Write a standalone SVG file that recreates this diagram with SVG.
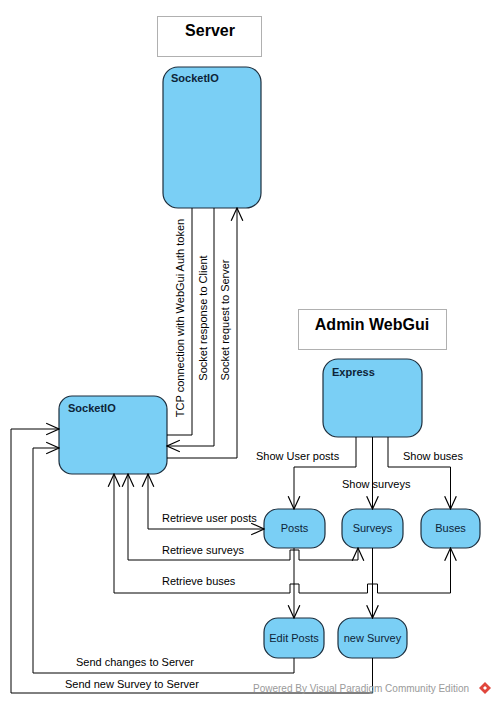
<svg xmlns="http://www.w3.org/2000/svg" width="497" height="705" viewBox="0 0 497 705">
<defs>
<style>
.title{fill:#fff;stroke:#b0b0b0;stroke-width:1}
.tt{font-family:"Liberation Sans",Arial,sans-serif;font-size:16px;font-weight:bold;fill:#000;text-anchor:middle}
.node{fill:#7acff5;stroke:#1c2d3c;stroke-width:1.2}
.nl{font-family:"Liberation Sans",Arial,sans-serif;font-size:11px;font-weight:bold;fill:#0d2438}
.nc{font-family:"Liberation Sans",Arial,sans-serif;font-size:11px;fill:#0d2438;text-anchor:middle}
.edge{fill:none;stroke:#000;stroke-width:1}
.el{font-family:"Liberation Sans",Arial,sans-serif;font-size:11px;fill:#000}
.wm{font-family:"Liberation Sans",Arial,sans-serif;font-size:10px;fill:#9a9a9a}
</style>
<marker id="arr" markerUnits="userSpaceOnUse" markerWidth="14" markerHeight="14" viewBox="0 0 12 12" refX="11" refY="6" orient="auto-start-reverse">
<path d="M0,1 L11,6 L0,11" fill="none" stroke="#000" stroke-width="1"/>
</marker>
</defs>

<g id="server-title">
<rect class="title" x="157.5" y="16.5" width="104" height="40"/>
<text class="tt" x="210" y="36">Server</text>
</g>

<g id="server-socketio">
<rect class="node" x="163" y="67" width="98" height="141" rx="15"/>
<text class="nl" x="171" y="82">SocketIO</text>
</g>

<g id="admin-title">
<rect class="title" x="298.5" y="309.5" width="148" height="40"/>
<text class="tt" x="372" y="330">Admin WebGui</text>
</g>

<g id="express">
<rect class="node" x="323" y="359" width="99" height="78" rx="15"/>
<text class="nl" x="332" y="376">Express</text>
</g>

<g id="client-socketio">
<rect class="node" x="59" y="396" width="108" height="78" rx="13"/>
<text class="nl" x="68" y="412">SocketIO</text>
</g>

<g id="posts">
<rect class="node" x="264" y="509" width="61" height="39" rx="14"/>
<text class="nc" x="294.5" y="532">Posts</text>
</g>

<g id="surveys">
<rect class="node" x="342" y="509" width="61" height="39" rx="14"/>
<text class="nc" x="372.5" y="532">Surveys</text>
</g>

<g id="buses">
<rect class="node" x="421" y="509" width="59" height="39" rx="14"/>
<text class="nc" x="450.5" y="532">Buses</text>
</g>

<g id="edit-posts">
<rect class="node" x="264" y="618" width="60" height="40" rx="14"/>
<text class="nc" x="294" y="642">Edit Posts</text>
</g>

<g id="new-survey">
<rect class="node" x="338" y="618" width="69" height="40" rx="14"/>
<text class="nc" x="372.5" y="642">new Survey</text>
</g>

<g id="connectors">
<path class="edge" d="M167,435 H192 V208"/>
<path class="edge" d="M214,208 V446 H167" marker-end="url(#arr)"/>
<path class="edge" d="M167,458 H237 V208" marker-end="url(#arr)"/>
<path class="edge" d="M356,437 V467 H294 V509" marker-end="url(#arr)"/>
<path class="edge" d="M372.5,437 V509" marker-end="url(#arr)"/>
<path class="edge" d="M388,437 V467 H450.5 V509" marker-end="url(#arr)"/>
<path class="edge" d="M148,474 V529 H264" marker-start="url(#arr)" marker-end="url(#arr)"/>
<path class="edge" d="M128,474 V560 H290 V550 H299 V560 H358 V548" marker-start="url(#arr)" marker-end="url(#arr)"/>
<path class="edge" d="M114,474 V593 H290 V584 H299 V593 H367.5 V584 H377.5 V593 H450.5 V548" marker-start="url(#arr)" marker-end="url(#arr)"/>
<path class="edge" d="M294,548 V618" marker-end="url(#arr)"/>
<path class="edge" d="M372.5,548 V618" marker-end="url(#arr)"/>
<path class="edge" d="M294,658 V673 H33 V448 H59" marker-end="url(#arr)"/>
<path class="edge" d="M372.5,658 V693 H11 V429 H59" marker-end="url(#arr)"/>

<text class="el" transform="translate(184,318) rotate(-90)" text-anchor="middle">TCP connection with WebGui Auth token</text>
<text class="el" transform="translate(207,318) rotate(-90)" text-anchor="middle">Socket response to Client</text>
<text class="el" transform="translate(229,320) rotate(-90)" text-anchor="middle">Socket request to Server</text>
<text class="el" x="256" y="460">Show User posts</text>
<text class="el" x="342" y="488">Show surveys</text>
<text class="el" x="403" y="460">Show buses</text>
<text class="el" x="162" y="522">Retrieve user posts</text>
<text class="el" x="162" y="554">Retrieve surveys</text>
<text class="el" x="162" y="585">Retrieve buses</text>
<text class="el" x="76" y="666">Send changes to Server</text>
<text class="el" x="65" y="688">Send new Survey to Server</text>
</g>

<g id="watermark">
<text class="wm" x="253" y="692">Powered By  Visual Paradigm Community Edition</text>
<polygon points="485,682 491,688 485,694 479,688" fill="#e0463c"/>
<polygon points="485,686 487,688 485,690 483,688" fill="#fff"/>
</g>
</svg>
